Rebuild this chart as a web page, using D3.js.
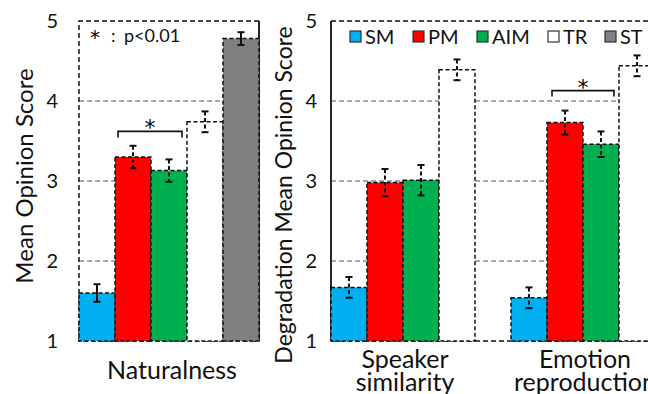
<!DOCTYPE html>
<html>
<head>
<meta charset="utf-8">
<script src="https://cdn.jsdelivr.net/npm/d3@7"></script>
<style>
  body { margin: 0; background: #fff; }
  text { font-family: Lato, "Open Sans", sans-serif; fill: #111; }
  text.estrella { font-family: "DejaVu Sans", sans-serif; fill: #000; }
</style>
</head>
<body>
<svg width="648" height="394"></svg>
<script>
(function (d3) {
  'use strict';

  // Datos
  const series = ['SM', 'PM', 'AIM', 'TR', 'ST'];
  const colores = ['#00b0f0', '#ff0000', '#00b050', '#ffffff', '#808080'];

  const natValores = [1.60, 3.30, 3.13, 3.74, 4.78];
  const natErrores = [0.11, 0.14, 0.14, 0.13, 0.08];

  const degCategorias = ['Speaker similarity', 'Emotion reproduction'];
  const degValores = [
    [1.67, 2.98, 3.01, 4.39, null],
    [1.54, 3.73, 3.46, 4.44, null]
  ];
  const degErrores = [
    [0.13, 0.17, 0.19, 0.13, null],
    [0.13, 0.15, 0.16, 0.13, null]
  ];
  const ticksY = [1, 2, 3, 4, 5];

  const svg = d3.select('svg');

  const y = d3.scaleLinear().domain([1, 5]).range([341, 21]);

  // Panel izquierdo
  const xNat = d3.scaleBand().domain(series).range([79, 259]).padding(0);
  // Panel derecho
  const xDeg = d3.scaleBand().domain(degCategorias).range([331, 691]).padding(0);
  const xSerie = d3.scaleBand().domain(series).range([0, 180]).padding(0);

  function rejilla(x0, x1) {
    svg.append('g')
      .selectAll('line')
      .data([2, 3, 4])
      .join('line')
        .attr('x1', x0).attr('x2', x1)
        .attr('y1', d => y(d)).attr('y2', d => y(d))
        .attr('stroke', '#8c8c8c')
        .attr('stroke-width', 1.3)
        .attr('stroke-dasharray', '5,3');
  }

  rejilla(79, 259);
  rejilla(331, 648);

  // Marcos
  const marco = svg.append('g')
    .attr('fill', 'none')
    .attr('stroke', '#111')
    .attr('stroke-width', 1.5);
  marco.append('path')
    .attr('d', `M259,${y(5)}H79V${y(1)}H259`)
    .attr('stroke-dasharray', '5,3');
  marco.append('line')
    .attr('x1', 259).attr('x2', 259).attr('y1', y(5)).attr('y2', y(1))
    .attr('stroke-width', 1.8);
  marco.append('path')
    .attr('d', `M331,${y(5)}H648M331,${y(1)}H648`)
    .attr('stroke-dasharray', '5,3');
  marco.append('line')
    .attr('x1', 331).attr('x2', 331).attr('y1', y(5)).attr('y2', y(1))
    .attr('stroke-width', 1.8);

  // Barras
  function barras(g, x, valores, errores, discontinuo) {
    const datos = series.map((s, i) => ({ s, i, v: valores[i], e: errores[i] }))
      .filter(d => d.v != null);
    g.selectAll('rect')
      .data(datos)
      .join('rect')
        .attr('x', d => x(d.s))
        .attr('y', d => y(d.v))
        .attr('width', x.bandwidth())
        .attr('height', d => y(1) - y(d.v))
        .attr('fill', d => colores[d.i])
        .attr('stroke', '#111')
        .attr('stroke-width', 1.5)
        .attr('stroke-dasharray', '4,2.5');

    const eb = g.selectAll('g.err')
      .data(datos)
      .join('g')
        .attr('class', 'err')
        .attr('transform', d => `translate(${x(d.s) + x.bandwidth() / 2},0)`)
        .attr('stroke', '#111')
        .attr('stroke-width', 2);
    eb.append('line')
      .attr('y1', d => y(d.v + d.e)).attr('y2', d => y(d.v - d.e))
      .attr('stroke-dasharray', d => discontinuo(d) ? '4,2.5' : null);
    eb.append('line')
      .attr('x1', -3.5).attr('x2', 3.5)
      .attr('y1', d => y(d.v + d.e)).attr('y2', d => y(d.v + d.e));
    eb.append('line')
      .attr('x1', -3.5).attr('x2', 3.5)
      .attr('y1', d => y(d.v - d.e)).attr('y2', d => y(d.v - d.e));
  }

  barras(svg.append('g'), xNat, natValores, natErrores,
    d => d.s !== 'SM' && d.s !== 'ST');

  degCategorias.forEach((c, k) => {
    const g = svg.append('g').attr('transform', `translate(${xDeg(c)},0)`);
    barras(g, xSerie, degValores[k], degErrores[k], () => true);
  });

  // Corchetes de significancia
  function corchete(x0, x1, yv) {
    const yy = y(yv);
    svg.append('path')
      .attr('d', `M${x0},${yy + 6}V${yy}H${x1}V${yy + 6}`)
      .attr('fill', 'none')
      .attr('stroke', '#111')
      .attr('stroke-width', 1.6);
    svg.append('text')
      .attr('class', 'estrella')
      .attr('x', (x0 + x1) / 2)
      .attr('y', yy + 4)
      .attr('text-anchor', 'middle')
      .attr('font-size', 22)
      .text('*');
  }
  corchete(xNat('PM') + 3, xNat('AIM') + xNat.bandwidth() - 5, 3.62);
  corchete(xDeg('Emotion reproduction') + xSerie('PM') + 5,
           xDeg('Emotion reproduction') + xSerie('AIM') + xSerie.bandwidth() - 5, 4.13);

  // Ejes Y
  const ejeIzq = svg.append('g')
    .attr('transform', 'translate(61,0)')
    .call(d3.axisLeft(y).tickValues(ticksY).tickFormat(d3.format('d')).tickSize(0));
  const ejeDer = svg.append('g')
    .attr('transform', 'translate(320,0)')
    .call(d3.axisLeft(y).tickValues(ticksY).tickFormat(d3.format('d')).tickSize(0));
  [ejeIzq, ejeDer].forEach(e => {
    e.select('.domain').remove();
    e.selectAll('text')
      .attr('font-size', 20)
      .attr('font-family', 'Lato, sans-serif')
      .attr('fill', '#111');
  });

  // Títulos de ejes
  svg.append('text')
    .attr('transform', `translate(33,${(y(1) + y(5)) / 2 - 5}) rotate(-90)`)
    .attr('text-anchor', 'middle')
    .attr('font-size', 24)
    .text('Mean Opinion Score');
  svg.append('text')
    .attr('transform', 'translate(292,195) rotate(-90)')
    .attr('text-anchor', 'middle')
    .attr('font-size', 23)
    .text('Degradation Mean Opinion Score');

  // Etiquetas de categoría
  svg.append('text')
    .attr('x', 172).attr('y', 379)
    .attr('text-anchor', 'middle')
    .attr('font-size', 25)
    .text('Naturalness');
  degCategorias.forEach(c => {
    const t = svg.append('text')
      .attr('x', xDeg(c) + 74)
      .attr('text-anchor', 'middle')
      .attr('font-size', 25);
    c.split(' ').forEach((w, i) => {
      t.append('tspan')
        .attr('x', xDeg(c) + 74)
        .attr('y', 368 + i * 23)
        .text(w);
    });
  });

  // Nota p
  svg.append('text')
    .attr('class', 'estrella')
    .attr('x', 95).attr('y', 44)
    .attr('text-anchor', 'middle')
    .attr('font-size', 20)
    .text('*');
  svg.append('text')
    .attr('x', 111).attr('y', 42)
    .attr('font-size', 18)
    .text(':');
  svg.append('text')
    .attr('x', 124).attr('y', 42)
    .attr('font-size', 18)
    .text('p<0.01');

  // Leyenda
  const leyX = [350, 413, 477, 548, 605];
  const ley = svg.append('g')
    .selectAll('g')
    .data(series)
    .join('g')
      .attr('transform', (d, i) => `translate(${leyX[i]},31)`);
  ley.append('rect')
    .attr('width', 11).attr('height', 11)
    .attr('fill', (d, i) => colores[i])
    .attr('stroke', '#333')
    .attr('stroke-width', 1.2);
  ley.append('text')
    .attr('x', 15).attr('y', 13)
    .attr('font-size', 20)
    .text(d => d);

}(d3));
</script>
</body>
</html>
